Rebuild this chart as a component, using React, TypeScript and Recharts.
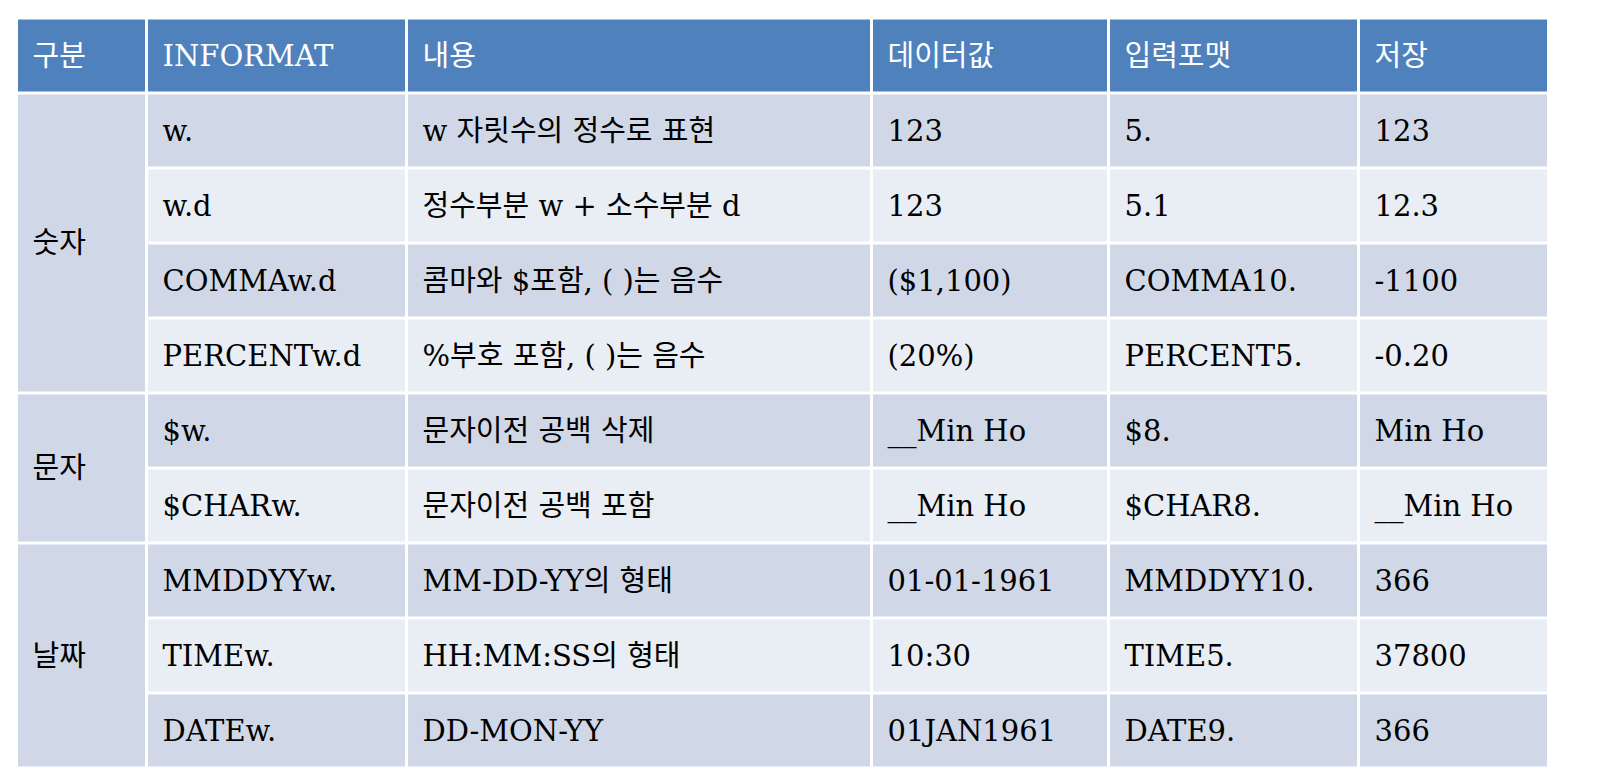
import React from "react";
import { BarChart, Bar, XAxis, YAxis } from "recharts";

const headers = ["구분", "INFORMAT", "내용", "데이터값", "입력포맷", "저장"];
const groups = ["숫자", "", "", "", "문자", "", "날짜", "", ""];
const groupSpans = [4, 0, 0, 0, 2, 0, 3, 0, 0];
const informats = ["w.", "w.d", "COMMAw.d", "PERCENTw.d", "$w.", "$CHARw.", "MMDDYYw.", "TIMEw.", "DATEw."];
const contents = ["w 자릿수의 정수로 표현", "정수부분 w + 소수부분 d", "콤마와 $포함, ( )는 음수", "%부호 포함, ( )는 음수", "문자이전 공백 삭제", "문자이전 공백 포함", "MM-DD-YY의 형태", "HH:MM:SS의 형태", "DD-MON-YY"];
const dataValues = ["123", "123", "($1,100)", "(20%)", "__Min Ho", "__Min Ho", "01-01-1961", "10:30", "01JAN1961"];
const inputFormats = ["5.", "5.1", "COMMA10.", "PERCENT5.", "$8.", "$CHAR8.", "MMDDYY10.", "TIME5.", "DATE9."];
const stored = ["123", "12.3", "-1100", "-0.20", "Min Ho", "__Min Ho", "366", "37800", "366"];
const colWidths = [130, 260, 465, 237, 250, 190];

const rows: any[] = [
  { id: "h", header: true, span: 1, t: headers },
  ...informats.map((_, i) => ({
    id: "r" + i,
    header: false,
    dark: i % 2 === 0,
    span: groupSpans[i],
    t: [groups[i], informats[i], contents[i], dataValues[i], inputFormats[i], stored[i]],
  })),
].map((r) => {
  const o: any = { ...r };
  colWidths.forEach((w, k) => (o["c" + k] = w));
  return o;
});

const FONT = "'DejaVu Serif', 'Noto Sans CJK KR', serif";

const makeShape = (k: number) => (p: any) => {
  const { x, y, width, height, payload } = p;
  const gap = 3;
  let h = height;
  let fill = payload.header ? "#4f81bd" : payload.dark ? "#d0d8e8" : "#e9edf4";
  if (k === 0 && !payload.header) {
    if (payload.span === 0) return <g />;
    h = payload.span * (height + gap) - gap;
    fill = "#d0d8e8";
  }
  return (
    <g>
      <rect x={x + 1.5} y={y} width={width - 3} height={h} fill={fill} />
      <text
        x={x + 16}
        y={y + h / 2}
        dominantBaseline="central"
        fontSize={29}
        fontFamily={FONT}
        fill={payload.header ? "#ffffff" : "#000000"}
      >
        {payload.t[k]}
      </text>
    </g>
  );
};

export default function App() {
  const total = colWidths.reduce((a, b) => a + b, 0);
  return (
    <BarChart
      width={1600}
      height={760}
      data={rows}
      layout="vertical"
      margin={{ top: 10, left: 8.5, right: 1600 - 8.5 - total, bottom: 0 }}
      barCategoryGap={1.5}
    >
      <XAxis type="number" hide domain={[0, total]} allowDataOverflow ticks={[0, total]} />
      <YAxis type="category" dataKey="id" hide />
      {colWidths.map((_, k) => (
        <Bar key={k} dataKey={"c" + k} stackId="a" isAnimationActive={false} shape={makeShape(k)} />
      ))}
    </BarChart>
  );
}
